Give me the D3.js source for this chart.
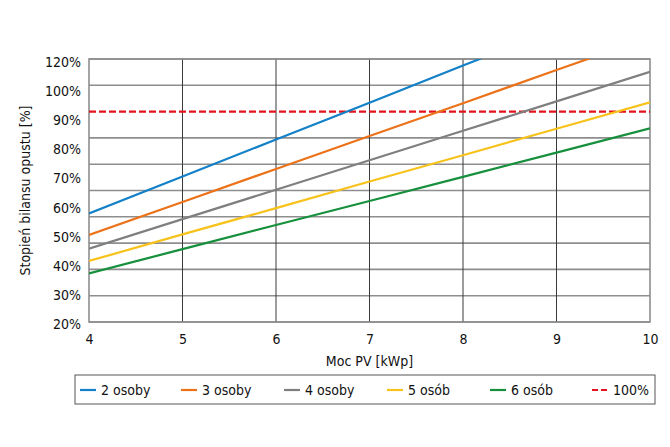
<!DOCTYPE html>
<html>
<head>
<meta charset="utf-8">
<script src="https://cdn.jsdelivr.net/npm/d3@7"></script>
<style>
  body { margin: 0; background: #fff; }
  svg text { font-family: "DejaVu Sans Condensed", "DejaVu Sans", sans-serif; font-stretch: condensed; fill: #111; }
</style>
</head>
<body>
<div id="chart"></div>
<script>
// moc instalacji PV [kWp]
var power = [4, 5, 6, 7, 8, 9, 10];

// stopień bilansu opustu [%] dla liczby osób
var s2 = [61.3, 75.3, 89.4, 103.4, 117.5, 131.5, 145.5];
var s3 = [53.1, 65.6, 78.2, 90.7, 103.2, 115.8, 128.3];
var s4 = [47.9, 59.1, 70.3, 81.5, 92.7, 103.9, 115.1];
var s5 = [43.2, 53.3, 63.3, 73.4, 83.4, 93.5, 103.5];
var s6 = [38.5, 47.7, 56.9, 66.0, 75.2, 84.4, 93.6];
var limit = 100;

var seriesNames = ["2 osoby", "3 osoby", "4 osoby", "5 osób", "6 osób"];
var seriesValues = [s2, s3, s4, s5, s6];
var colors = ["#1380c8", "#ec7219", "#7f7f7f", "#f7c21b", "#16903c"];
var limitColor = "#e3121c";

// etykiety osi Y tak jak na oryginale
var yLabels = ["120%", "100%", "90%", "80%", "70%", "60%", "50%", "40%", "30%", "20%"];
var yGrid = [20, 30, 40, 50, 60, 70, 80, 90, 100, 110, 120];

var svgWidth = 670, svgHeight = 447;
var margin = { top: 59, right: 20, bottom: 125, left: 89 };
var width = 650 - margin.left;
var height = 322 - margin.top;

var svg = d3.select("#chart").append("svg")
  .attr("width", svgWidth)
  .attr("height", svgHeight);

var chartGroup = svg.append("g")
  .attr("transform", `translate(${margin.left}, ${margin.top})`);

var x = d3.scaleLinear().domain([4, 10]).range([0, width]);
var y = d3.scaleLinear().domain([20, 120]).range([height, 0]);
var yLab = d3.scalePoint().domain(yLabels).range([3, height + 2]);

// horizontal grid (the 100% one is covered by the dashed line)
chartGroup.selectAll(".hgrid")
  .data(yGrid.filter(d => d !== limit))
  .enter().append("line")
  .attr("x1", 0).attr("x2", width)
  .attr("y1", d => y(d)).attr("y2", d => y(d))
  .attr("stroke", "#8e8e8e")
  .attr("stroke-width", 1.6);

// vertical grid
chartGroup.selectAll(".vgrid")
  .data(power.slice(1, -1))
  .enter().append("line")
  .attr("x1", d => x(d)).attr("x2", d => x(d))
  .attr("y1", 0).attr("y2", height)
  .attr("stroke", "#3a3a3a")
  .attr("stroke-width", 1);

// frame
chartGroup.append("rect")
  .attr("width", width).attr("height", height)
  .attr("fill", "none")
  .attr("stroke", "#8e8e8e")
  .attr("stroke-width", 1.6);

// clip
chartGroup.append("clipPath").attr("id", "plot")
  .append("rect").attr("x", 0).attr("y", 0).attr("width", width).attr("height", height);

// 100% line
chartGroup.append("line")
  .attr("x1", 0).attr("x2", width)
  .attr("y1", y(limit)).attr("y2", y(limit))
  .attr("stroke", limitColor)
  .attr("stroke-width", 2.2)
  .attr("stroke-dasharray", "7,3");

var line = d3.line()
  .x((d, i) => x(power[i]))
  .y(d => y(d));

chartGroup.append("g").attr("clip-path", "url(#plot)")
  .selectAll("path")
  .data(seriesValues)
  .enter().append("path")
  .attr("d", line)
  .attr("fill", "none")
  .attr("stroke", (d, i) => colors[i])
  .attr("stroke-width", 2.2);

// axes
var xAxis = chartGroup.append("g")
  .attr("transform", `translate(0, ${height})`)
  .call(d3.axisBottom(x).ticks(6).tickSize(0).tickPadding(12));
xAxis.select(".domain").remove();
xAxis.selectAll("text").attr("font-size", "14px").style("font-family", null);

var yAxis = chartGroup.append("g")
  .call(d3.axisLeft(yLab).tickSize(0).tickPadding(8));
yAxis.select(".domain").remove();
yAxis.selectAll("text").attr("font-size", "14px").style("font-family", null);

// axis titles
chartGroup.append("text")
  .attr("x", width / 2)
  .attr("y", height + 44)
  .attr("text-anchor", "middle")
  .attr("font-size", "14px")
  .text("Moc PV [kWp]");

chartGroup.append("text")
  .attr("transform", "rotate(-90)")
  .attr("x", -height / 2)
  .attr("y", -59)
  .attr("text-anchor", "middle")
  .attr("font-size", "14px")
  .text("Stopień bilansu opustu [%]");

// legend
var legend = svg.append("g").attr("transform", "translate(75, 375)");
legend.append("rect")
  .attr("width", 580).attr("height", 29)
  .attr("fill", "#fff")
  .attr("stroke", "#555")
  .attr("stroke-width", 1);

var legendNames = seriesNames.concat(["100%"]);
var legendColors = colors.concat([limitColor]);
var legendX = [26, 127, 230, 333, 436, 538];

var items = legend.selectAll(".item")
  .data(legendNames)
  .enter().append("g")
  .attr("transform", (d, i) => `translate(${legendX[i]}, 0)`);

items.append("line")
  .attr("x1", -21).attr("x2", -5)
  .attr("y1", 15).attr("y2", 15)
  .attr("stroke", (d, i) => legendColors[i])
  .attr("stroke-width", 2.2)
  .attr("stroke-dasharray", (d, i) => i === 5 ? "6,3" : null);

items.append("text")
  .attr("x", 0)
  .attr("y", 20)
  .attr("font-size", "14px")
  .text(d => d);
</script>
</body>
</html>
